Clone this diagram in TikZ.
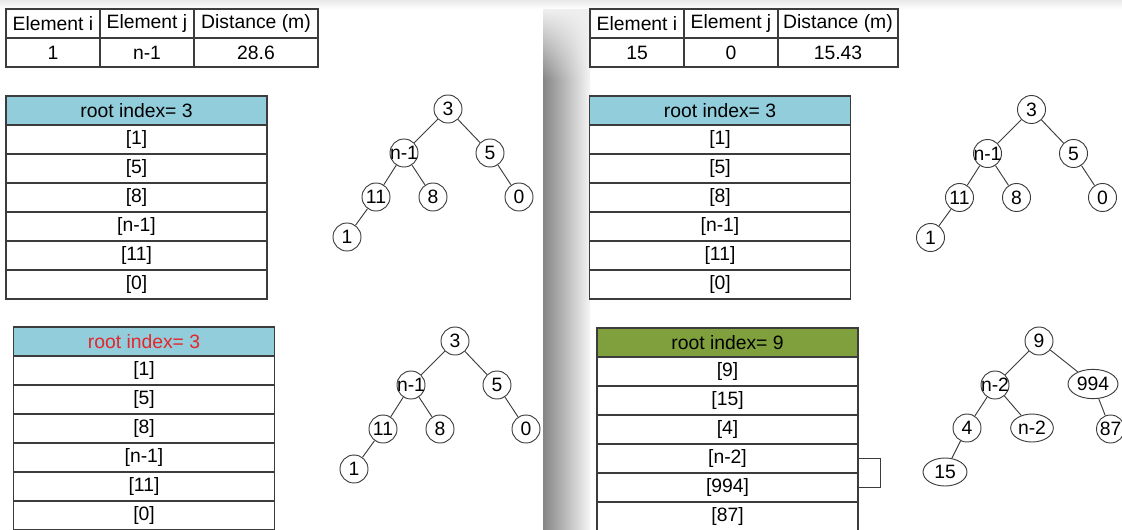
\documentclass[tikz,border=0pt]{standalone}
\usepackage{fontspec}
\setmainfont{Liberation Sans}
\usepackage{tikz}
\usetikzlibrary{shapes.geometric, fadings}
\usepackage{xcolor}
\definecolor{headblue}{HTML}{92CDDC}
\definecolor{headgreen}{HTML}{7FA03C}
\definecolor{rootred}{HTML}{E3262B}
\definecolor{linegray}{HTML}{3C3C3C}

\tikzset{
  cell/.style={rectangle, draw=linegray, line width=0.9pt, minimum height=21.75pt, inner sep=0pt},
  slot/.style={cell, minimum width=195.75pt, fill=white},
  treenode/.style={circle, draw=linegray, line width=0.7pt, minimum size=21pt, inner sep=0pt},
  wideleaf/.style={ellipse, draw=linegray, line width=0.7pt, minimum width=32pt, minimum height=21pt, inner sep=0pt},
  branch/.style={draw=linegray, line width=0.7pt}
}
\newcommand{\lbl}[1]{\makebox[0pt]{#1}}
% heap of root index 3, placed by the scope around it
\newcommand{\heaptree}{%
  \node[treenode] (root) at (448,109) {3};
  \node[treenode] (nl) at (404,153) {\lbl{n-1}};
  \node[treenode] (nr) at (490,153) {5};
  \node[treenode] (nll) at (376,197) {11};
  \node[treenode] (nlr) at (433,197) {8};
  \node[treenode] (nrr) at (519,197) {0};
  \node[treenode] (nlll) at (347,237) {1};
  \draw[branch] (root) -- (nl) (root) -- (nr) (nl) -- (nll) (nl) -- (nlr)
    (nr) -- (nrr) (nll) -- (nlll);
}

\begin{document}
\begin{tikzpicture}[x=0.75pt, y=-0.75pt, font=\fontsize{14.5}{17}\selectfont]
\useasboundingbox (0,0) rectangle (1122,529);
\clip (0,0) rectangle (1122,529);
% screen backdrop
\shade[top color=black!9, bottom color=white] (0,0) rectangle (1122,9);
\shade[left color=black!48, right color=black!4] (543,9) rectangle (590,529);
\fill[black!6, path fading=south] (543,9) rectangle (590,80);

% distance tables
\node[cell, minimum width=70.5pt] (lti) at (53,23.5) {Element i};
\node[cell, minimum width=70.5pt] (ltj) at (147,23.5) {Element j};
\node[cell, minimum width=93pt] (ltd) at (256,23.5) {Distance (m)};
\node[cell, minimum width=70.5pt] (lvi) at (53,52.5) {1};
\node[cell, minimum width=70.5pt] (lvj) at (147,52.5) {n-1};
\node[cell, minimum width=93pt] (lvd) at (256,52.5) {28.6};

\node[cell, minimum width=70.5pt] (rti) at (637,23.5) {Element i};
\node[cell, minimum width=70.5pt] (rtj) at (731,23.5) {Element j};
\node[cell, minimum width=90pt] (rtd) at (838,23.5) {Distance (m)};
\node[cell, minimum width=70.5pt] (rvi) at (637,52.5) {15};
\node[cell, minimum width=70.5pt] (rvj) at (731,52.5) {0};
\node[cell, minimum width=90pt] (rvd) at (838,52.5) {15.43};

% root index tables
\node[slot, fill=headblue] (lthead) at (136.5,110.5) {root index= 3};
\foreach \v [count=\k] in {{[1]},{[5]},{[8]},{[n-1]},{[11]},{[0]}}
  \node[slot] (ltrow\k) at (136.5,110.5+29*\k) {\v};

\node[slot, fill=headblue] (rthead) at (720,110.5) {root index= 3};
\foreach \v [count=\k] in {{[1]},{[5]},{[8]},{[n-1]},{[11]},{[0]}}
  \node[slot] (rtrow\k) at (720,110.5+29*\k) {\v};

\node[slot, fill=headblue, text=rootred] (lbhead) at (144,341.5) {root index= 3};
\foreach \v [count=\k] in {{[1]},{[5]},{[8]},{[n-1]},{[11]},{[0]}}
  \node[slot] (lbrow\k) at (144,341.5+29*\k) {\v};

\node[slot, fill=headgreen] (rbhead) at (727.5,342.5) {root index= 9};
\foreach \v [count=\k] in {{[9]},{[15]},{[4]},{[n-2]},{[994]},{[87]}}
  \node[slot] (rbrow\k) at (727.5,342.5+29*\k) {\v};
\draw[branch] (rbrow4.east) -- ++(22,0) |- (rbrow5.east);

% heaps
\begin{scope}[name prefix=lt-]
  \heaptree
\end{scope}
\begin{scope}[shift={(583.5,0.5)}, name prefix=rt-]
  \heaptree
\end{scope}
\begin{scope}[shift={(7,232)}, name prefix=lb-]
  \heaptree
\end{scope}

\node[treenode] (h9) at (1039,341) {9};
\node[treenode] (hn2) at (995,385) {\lbl{n-2}};
\node[wideleaf, minimum width=37.5pt, minimum height=22pt] (h994) at (1093,384) {994};
\node[treenode] (h4) at (967,428) {4};
\node[wideleaf] (hn2b) at (1032,428) {n-2};
\node[treenode] (h87) at (1110.5,429) {87};
\node[wideleaf, minimum width=33pt] (h15) at (945,472) {15};
\draw[branch] (h9) -- (hn2) (h9) -- (h994) (hn2) -- (h4) (hn2) -- (hn2b)
  (h994) -- (h87) (h4) -- (h15);
\end{tikzpicture}
\end{document}
